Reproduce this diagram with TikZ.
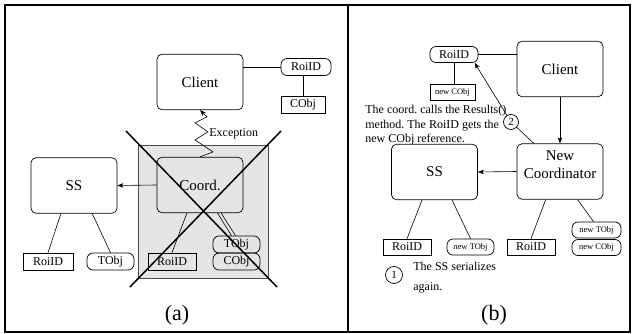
\documentclass[tikz,border=0pt]{standalone}
\usepackage{fontspec}
\setmainfont{Liberation Serif}
\usetikzlibrary{calc,arrows.meta}
\frenchspacing

\tikzset{
  bigbox/.style={draw, rounded corners=5pt, minimum width=86pt, minimum height=55.5pt, inner sep=0pt, font=\fontsize{15}{17}\selectfont},
  objround/.style={draw, rounded corners=6pt, minimum width=48pt, minimum height=17pt, inner sep=0pt, font=\fontsize{12}{14}\selectfont},
  objrect/.style={draw, minimum width=48pt, minimum height=17pt, inner sep=0pt, font=\fontsize{12}{14}\selectfont},
  newobj/.style={font=\fontsize{8.5}{10}\selectfont},
  note/.style={font=\fontsize{12}{14.5}\selectfont, align=left, inner sep=0pt},
  num/.style={draw, circle, fill=white, inner sep=0pt, minimum size=15pt, font=\fontsize{11}{12}\selectfont},
  caption/.style={font=\fontsize{22}{24}\selectfont},
  link/.style={line width=0.6pt},
  call/.style={line width=0.6pt, -{Stealth[length=6pt,width=4.5pt,inset=1.5pt]}},
}

\begin{document}
\begin{tikzpicture}[x=1pt, y=-1pt, line width=0.7pt]
        \useasboundingbox (0,0) rectangle (632,334);
        \draw [line width=1.6pt] (5,5) rectangle (630,332);
        \draw [line width=1.4pt] (348,5) -- (348,332);

        % (a)
        \draw [fill=black!10, draw=black!70] (138,145) rectangle (268,278);
        \node [bigbox] (client) at (200,82) {Client};
        \node [objround, minimum width=50pt] (aroi) at (306,67) {RoiID};
        \node [objrect, minimum width=44pt] (acobj) at (303,105) {CObj};
        \node [bigbox] (coord) at (200,185) {Coord.};
        \node [bigbox] (ss) at (74,185.5) {SS};
        \node [objrect, minimum width=50pt] (ssroi) at (48,261.5) {RoiID};
        \node [objround, minimum width=47pt] (sstobj) at (110.5,261.5) {TObj};
        \node [objrect] (croi) at (172,261.5) {RoiID};
        \node [objround, minimum width=47pt] (ctobj) at (236.5,244.5) {TObj};
        \node [objround, minimum width=47pt] (ccobj) at (236.5,261.5) {CObj};
        \node [caption] (capa) at (177,315) {(a)};

        \draw [link] (client.east |- aroi.west) -- (aroi.west);
        \draw [link] (acobj.north |- aroi.south) -- (acobj.north);
        \draw [call] (coord.west) -- (ss.east);
        \draw [link] (ss.-115) -- (ssroi.north);
        \draw [link] (ss.-57) -- (sstobj.north);
        \draw [link] (coord.-115) -- (croi.north);
        \draw [link] (coord.-58.5) -- ([xshift=-5pt]ctobj.north);
        \draw [link] (coord.-53) -- ([xshift=-1pt]ctobj.north);
        \draw [call] (coord.north) -- ++(13,-5) -- ++(-18,-12) -- ++(13,-8) -- ++(-13,-9) -- ++(12,-6) -- (client.south);
        \node [note, anchor=west] (exc) at ($(coord.north)!0.5!(client.south)+(9,0)$) {Exception};
        \draw [line width=1.5pt] (126,131) -- (277,287);
        \draw [line width=1.5pt] (281,131) -- (130,287);

        % (b)
        \node [objround, minimum height=16pt] (broi) at (454,54.5) {RoiID};
        \node [bigbox] (bclient) at (560,69) {Client};
        \node [objrect, newobj, minimum width=45pt, minimum height=16pt] (bcobj) at (452.5,92) {new CObj};
        \node [note, anchor=north west] (results) at (365,105) {The coord. calls the Results()\\method. The RoiID gets the\\new CObj reference.};
        \node [bigbox, fill=white] (bss) at (434.5,172) {SS};
        \node [bigbox, align=center, text depth=13pt, font=\fontsize{15}{18}\selectfont] (bnew) at (560,171.5) {New\\Coordinator};
        \node [objrect, minimum height=16pt] (bsroi) at (407,247) {RoiID};
        \node [objround, newobj, minimum width=47pt, minimum height=16pt] (bstobj) at (470.5,247) {new TObj};
        \node [objrect, minimum height=16pt] (bnroi) at (531,247) {RoiID};
        \node [objround, newobj, minimum width=49pt, minimum height=16pt] (bntobj) at (596.5,230) {new TObj};
        \node [objround, newobj, minimum width=49pt, minimum height=16pt] (bncobj) at (596.5,247.5) {new CObj};
        \node [num, minimum size=17pt] (one) at (394,275) {1};
        \node [note, anchor=north west, font=\fontsize{12}{20}\selectfont] (serial) at (413,262) {The SS serializes\\again.};
        \node [caption] (capb) at (494,315) {(b)};

        \draw [link] (broi.east) -- (broi.east -| bclient.west);
        \draw [link] (broi.south) -- (broi.south |- bcobj.north);
        \draw [call] (bclient.south) -- (bnew.north);
        \draw [call] (bnew.west) -- (bss.east);
        \draw [link] (bss.-114) -- (bsroi.north);
        \draw [link] (bss.-58) -- (bstobj.north);
        \draw [link] (bnew.-117) -- (bnroi.north);
        \draw [link] (bnew.-58.5) -- ([xshift=-3pt]bntobj.north);
        \draw [call] (bnew.133) -- (511,122) -- (broi.-22);
        \node [num] (two) at (511,122) {2};
\end{tikzpicture}
\end{document}
